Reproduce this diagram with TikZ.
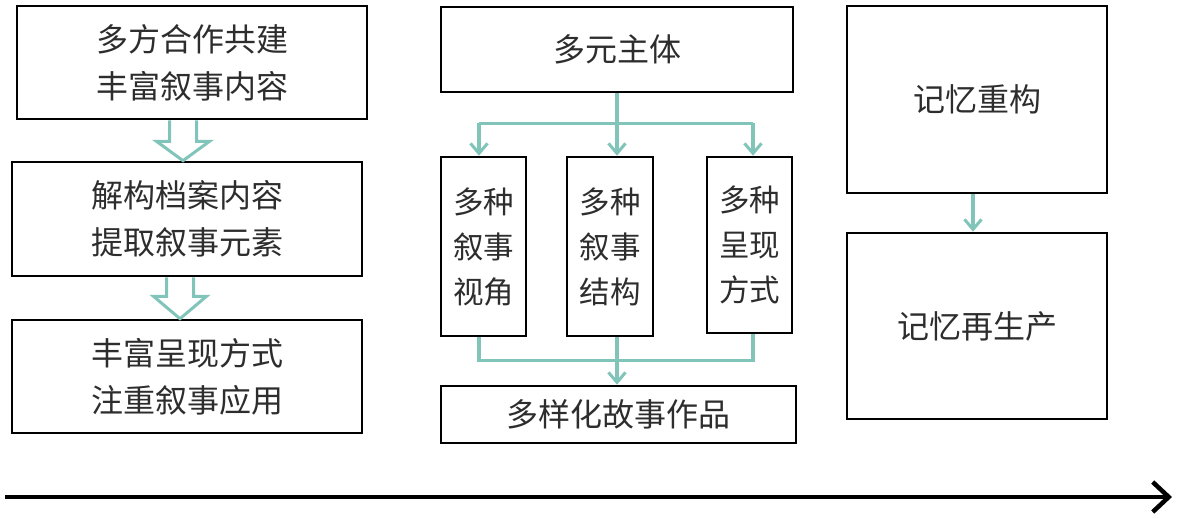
\documentclass[tikz,border=0pt]{standalone}
\usepackage{fontspec}
\setmainfont{Noto Sans CJK SC}
\usetikzlibrary{arrows.meta,calc}
\definecolor{tealc}{RGB}{128,196,186}
\definecolor{txt}{RGB}{45,45,45}
\begin{document}
\begin{tikzpicture}[x=1pt,y=-1pt,
  box/.style={draw=black,line width=2.6pt,fill=none,inner sep=0pt,align=center,
     text=txt,font=\fontsize{32}{47}\selectfont},
  vbox/.style={box,font=\fontsize{30.5}{45}\selectfont},
  tline/.style={draw=tealc,line width=3.2pt},
  tarrow/.style={tline,-{Straight Barb[length=10pt,width=17pt,line width=3pt]}},
  blockarrow/.style={draw=tealc,line width=3pt,line join=miter},
  timeline/.style={draw=black,line width=4.5pt,-{Straight Barb[length=16pt,width=30pt,line width=4.5pt]}}
]
\useasboundingbox (0,0) rectangle (1178,519);
% left column
\node[box,minimum width=350pt,minimum height=113pt] (L1) at (192,62.5) {多方合作共建\\丰富叙事内容};
\node[box,minimum width=350pt,minimum height=114pt] (L2) at (187,219) {解构档案内容\\提取叙事元素};
\node[box,minimum width=350pt,minimum height=113pt] (L3) at (187,376.5) {丰富呈现方式\\注重叙事应用};
% hollow block arrows
\coordinate (T1) at ([xshift=-9pt]L1.south);
\coordinate (B1) at (T1 |- L2.north);
\draw[blockarrow] ($(T1)+(-13.5,0)$) -- ($(T1)+(-13.5,21)$) -- ($(T1)+(-26.5,21)$) -- (B1)
   -- ($(T1)+(26.5,21)$) -- ($(T1)+(13.5,21)$) -- ($(T1)+(13.5,0)$);
\coordinate (T2) at ([xshift=-7pt]L2.south);
\coordinate (B2) at (T2 |- L3.north);
\draw[blockarrow] ($(T2)+(-13.5,0)$) -- ($(T2)+(-13.5,19)$) -- ($(T2)+(-26.5,19)$) -- (B2)
   -- ($(T2)+(26.5,19)$) -- ($(T2)+(13.5,19)$) -- ($(T2)+(13.5,0)$);
% middle column
\node[box,minimum width=352pt,minimum height=85pt] (M0) at (617,49.5) {多元主体};
\node[vbox,minimum width=85pt,minimum height=179pt] (Ma) at (483.5,246.5) {多种\\叙事\\视角};
\node[vbox,minimum width=86pt,minimum height=179pt] (Mb) at (610,246.5) {多种\\叙事\\结构};
\node[vbox,minimum width=85pt,minimum height=176pt] (Mc) at (749.5,245) {多种\\呈现\\方式};
\node[box,minimum width=355pt,minimum height=57pt] (Mbot) at (618.5,414.5) {多样化故事作品};
\coordinate (J) at ($(M0.south)+(0,30)$);
\coordinate (Ja) at ([xshift=-4.5pt]Ma.north |- J);
\coordinate (Jc) at ([xshift=3.5pt]Mc.north |- J);
\draw[tline] (M0.south) -- (J);
\draw[tline] (Ja) -- (Jc);
\draw[tarrow] (J) -- (J |- Mb.north);
\draw[tarrow] (Ja) -- (Ja |- Ma.north);
\draw[tarrow] (Jc) -- (Jc |- Mc.north);
\coordinate (K) at ($(M0.south |- Mb.south)+(0,23)$);
\draw[tline] ([xshift=-4.5pt]Ma.south) |- (K);
\draw[tline] ([xshift=3.5pt]Mc.south) |- (K);
\draw[tline] (M0.south |- Mb.south) -- (K);
\draw[tarrow] (K) -- (K |- Mbot.north);
% right column
\node[box,minimum width=260pt,minimum height=187pt] (R1) at (977,99.5) {记忆重构};
\node[box,minimum width=260pt,minimum height=186pt] (R2) at (977,326) {记忆再生产};
\draw[tarrow] ([xshift=-4pt]R1.south) -- ([xshift=-4pt]R2.north);
% timeline
\coordinate (A0) at (5,497);
\coordinate (A1) at (1172,497);
\draw[timeline] (A0) -- (A1);
\end{tikzpicture}
\end{document}
